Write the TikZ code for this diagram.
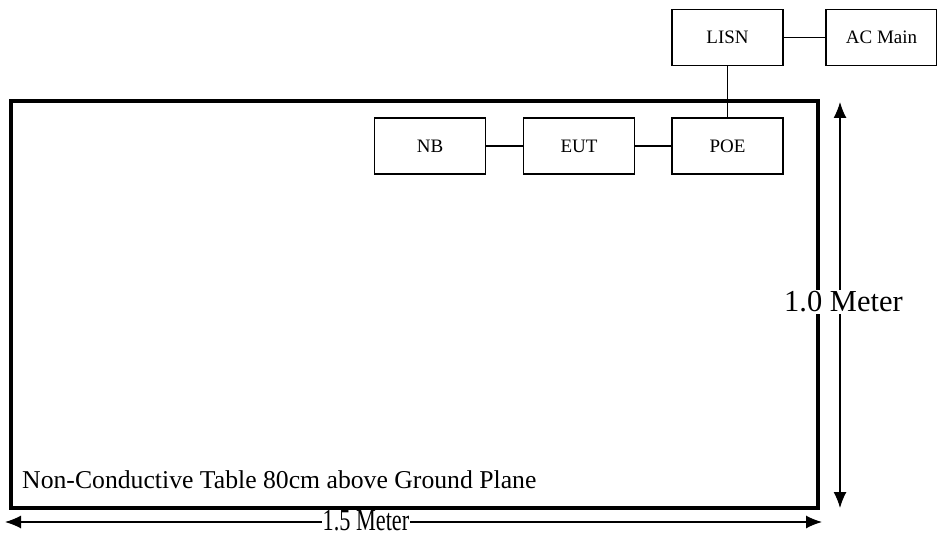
\documentclass[tikz,border=0pt]{standalone}
\usepackage{fontspec}
\setmainfont{Liberation Serif}
\usetikzlibrary{arrows.meta}
\begin{document}
\begin{tikzpicture}[x=1pt,y=-1pt,
  box/.style={draw,line width=1.3pt,minimum width=111pt,minimum height=56pt,inner sep=0pt,font=\fontsize{19}{21}\selectfont},
  wire/.style={line width=1.3pt},
  dim/.style={line width=1.3pt,{Latex[length=16pt,width=13pt]}-{Latex[length=16pt,width=13pt]}}]
\useasboundingbox (0,0) rectangle (937,540);
\draw[line width=4pt] (11,101) rectangle (818,508);
\node[box] (lisn) at (727.5,37.5) {LISN};
\node[box] (ac) at (881.5,37.5) {AC Main};
\node[box] (nb) at (430,146) {NB};
\node[box] (eut) at (579,146) {EUT};
\node[box] (poe) at (727.5,146) {POE};
\draw[wire] (lisn) -- (ac);
\draw[wire] (lisn) -- (poe);
\draw[wire] (nb) -- (eut);
\draw[wire] (eut) -- (poe);
\node[anchor=west,inner sep=0pt,font=\fontsize{25.7}{28}\selectfont] (tbl) at (22,480) {Non-Conductive Table 80cm above Ground Plane};
\coordinate (vt) at (840,102);
\coordinate (vb) at (840,508);
\draw[dim] (vt) -- (vb);
\node[fill=white,inner sep=2pt,font=\fontsize{30.5}{33}\selectfont] (vl) at (843.5,302) {1.0 Meter};
\coordinate (hl) at (5,522);
\coordinate (hr) at (822,522);
\draw[dim] (hl) -- (hr);
\node[fill=white,inner sep=1pt,xscale=0.73,font=\fontsize{30.5}{33}\selectfont] (hlab) at (366,521) {1.5 Meter};
\end{tikzpicture}
\end{document}
